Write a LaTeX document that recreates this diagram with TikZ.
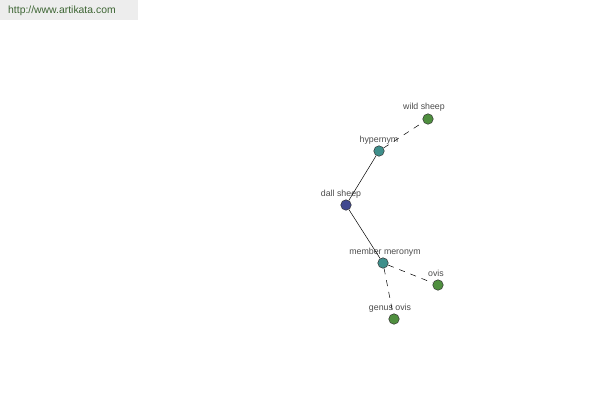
\documentclass[tikz,border=0pt]{standalone}
\usepackage{fontspec}
\setmainfont{Liberation Sans}
\begin{document}
\begin{tikzpicture}[x=1pt,y=-1pt,
  vert/.style={circle,draw=black!80,line width=0.5pt,minimum size=10.5pt,inner sep=0pt},
  hub/.style={vert,fill=cHub},
  rel/.style={vert,fill=cRel},
  leaf/.style={vert,fill=cLeaf},
  lbl/.style={font=\fontsize{8.8}{9}\selectfont,text=black!70,inner sep=0pt},
  edge/.style={black,line width=0.5pt},
  dedge/.style={edge,dash pattern=on 6pt off 6pt}]
\definecolor{cHub}{HTML}{41498F}
\definecolor{cRel}{HTML}{3F8F8B}
\definecolor{cLeaf}{HTML}{4F8F3F}
\useasboundingbox (0,0) rectangle (600,400);
\fill[black!7] (0,0) rectangle (138,20);
\node[font=\fontsize{10.4}{11}\selectfont,text={rgb,255:red,60;green,100;blue,50},anchor=west,inner sep=0pt] (url) at (8,11) {http://www.artikata.com};
\node[hub] (dall) at (346,205) {};
\node[rel] (hyp) at (379,151) {};
\node[rel] (mer) at (383,263) {};
\node[leaf] (wild) at (428,119) {};
\node[leaf] (ovis) at (438,285) {};
\node[leaf] (genus) at (394,319) {};
\node[lbl] (ldall) at (341,194) {dall sheep};
\node[lbl] (lhyp) at (379,140) {hypernym};
\node[lbl] (lmer) at (385,252) {member meronym};
\node[lbl] (lwild) at (424,107) {wild sheep};
\node[lbl] (lovis) at (436,273) {ovis};
\node[lbl] (lgenus) at (390,308) {genus ovis};
\draw[edge] (dall) -- (hyp);
\draw[edge] (dall) -- (mer);
\draw[dedge] (hyp) -- (wild);
\draw[dedge] (mer) -- (ovis);
\draw[dedge] (mer) -- (genus);
\end{tikzpicture}
\end{document}
